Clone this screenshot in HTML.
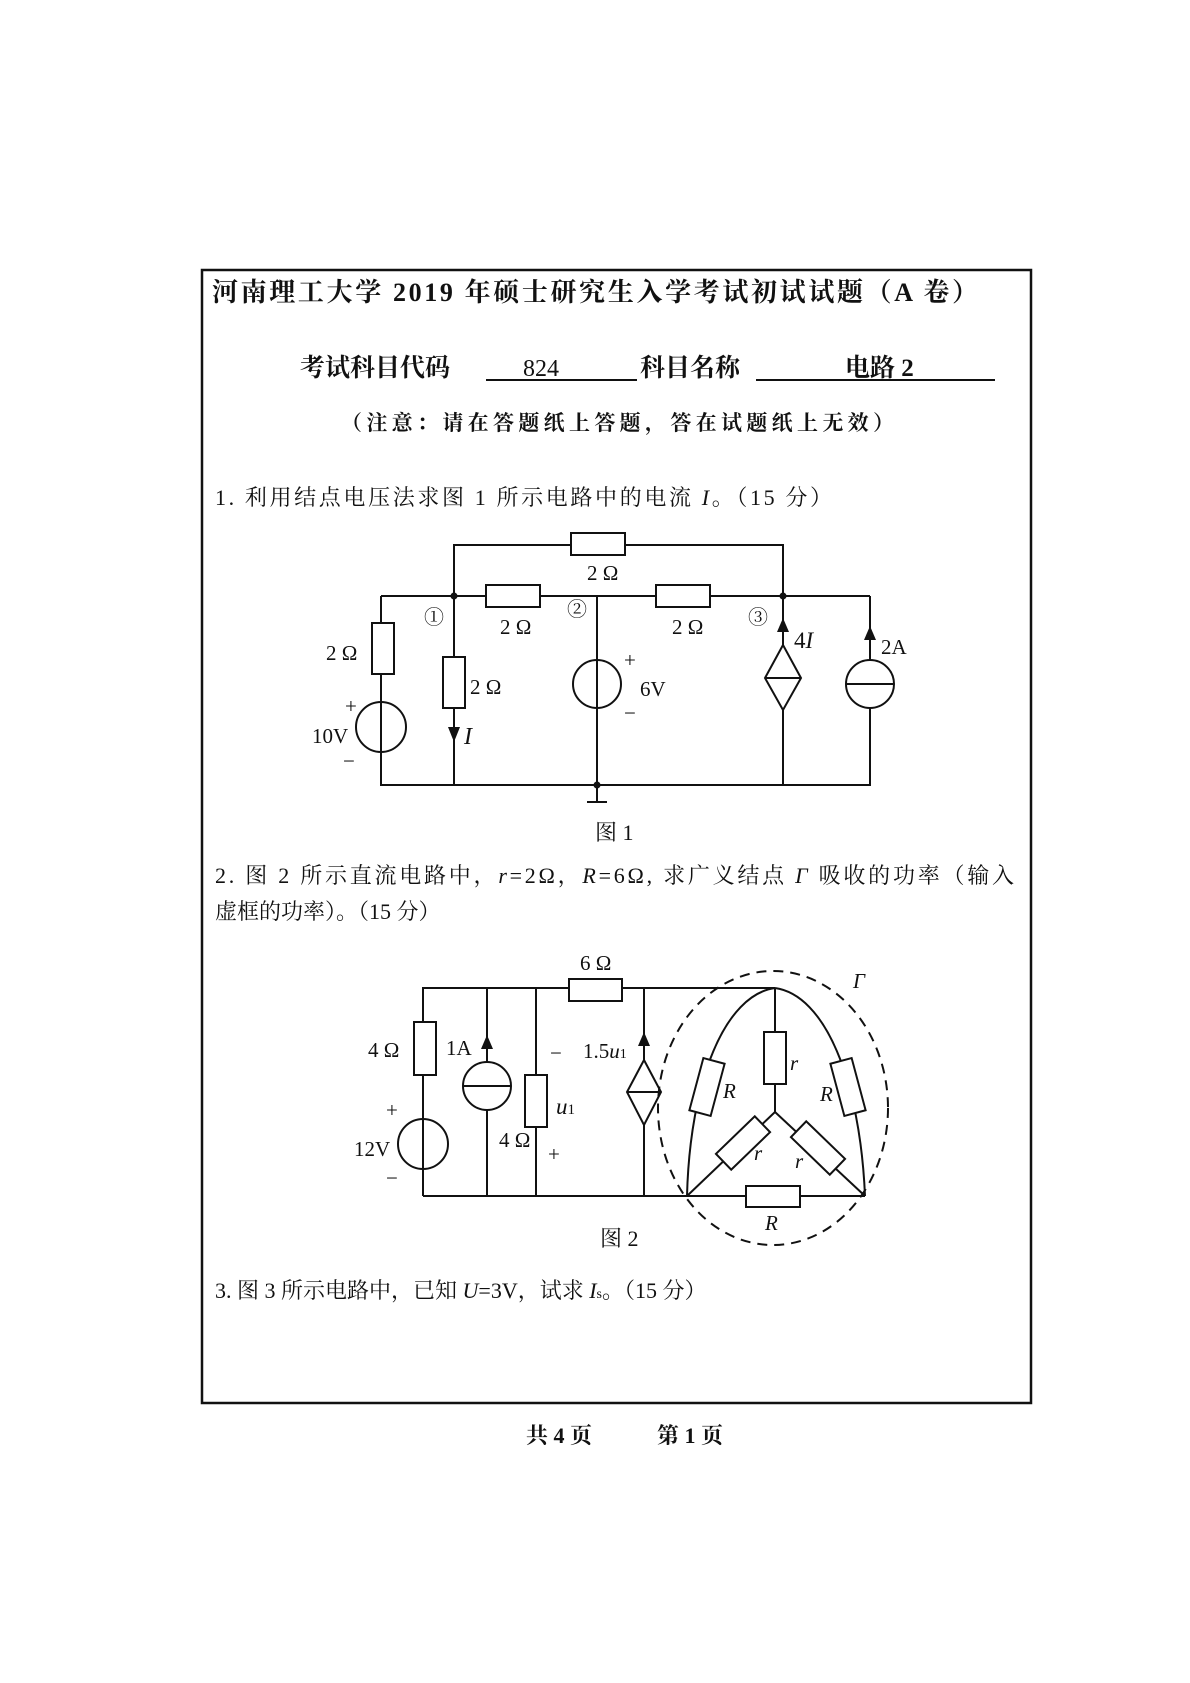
<!DOCTYPE html>
<html><head><meta charset="utf-8"><style>
html,body{margin:0;padding:0;background:#fff;}
svg{display:block}
text{font-family:"Liberation Serif","Noto Serif CJK SC",serif;fill:#111;}
</style></head><body>
<svg width="1190" height="1683" viewBox="0 0 1190 1683" xmlns="http://www.w3.org/2000/svg">
<rect x="202" y="270" width="829" height="1133" fill="none" stroke="#111" stroke-width="2.5"/>
<text x="212" y="301" font-size="26" font-weight="bold" textLength="766">河南理工大学 2019 年硕士研究生入学考试初试试题（A 卷）</text>
<text x="300" y="376" font-size="25" font-weight="bold">考试科目代码</text>
<text x="523" y="376" font-size="24">824</text>
<line x1="486" y1="380" x2="637" y2="380" stroke="#111" stroke-width="2"/>
<text x="640" y="376" font-size="25" font-weight="bold">科目名称</text>
<line x1="756" y1="380" x2="995" y2="380" stroke="#111" stroke-width="2"/>
<text x="845" y="376" font-size="25" font-weight="bold">电路 2</text>
<text x="341" y="430" font-size="21" font-weight="bold" textLength="553">（注意：请在答题纸上答题，答在试题纸上无效）</text>
<text x="215" y="505" font-size="22" textLength="617">1. 利用结点电压法求图 1 所示电路中的电流 <tspan font-style="italic">I</tspan>。（15 分）</text>

<g stroke="#111" stroke-width="2" fill="none">
<!-- Fig 1 -->
<polyline points="454,596 454,545 783,545 783,596"/>
<line x1="381" y1="596" x2="870" y2="596"/>
<polyline points="381,596 381,785 870,785 870,596"/>
<line x1="454" y1="596" x2="454" y2="785"/>
<line x1="597" y1="596" x2="597" y2="802"/>
<line x1="783" y1="596" x2="783" y2="785"/>
<line x1="587" y1="802" x2="607" y2="802"/>
<rect x="571" y="533" width="54" height="22" fill="#fff"/>
<rect x="486" y="585" width="54" height="22" fill="#fff"/>
<rect x="656" y="585" width="54" height="22" fill="#fff"/>
<rect x="372" y="623" width="22" height="51" fill="#fff"/>
<circle cx="381" cy="727" r="25" fill="#fff"/>
<line x1="381" y1="702" x2="381" y2="752"/>
<rect x="443" y="657" width="22" height="51" fill="#fff"/>
<circle cx="597" cy="684" r="24" fill="#fff"/>
<line x1="597" y1="660" x2="597" y2="708"/>
<polygon points="783,645 801,678 783,710 765,678" fill="#fff"/>
<line x1="765" y1="678" x2="801" y2="678"/>
<circle cx="870" cy="684" r="24" fill="#fff"/>
<line x1="846" y1="684" x2="894" y2="684"/>
</g>
<g fill="#111">
<circle cx="454" cy="596" r="3.5"/><circle cx="783" cy="596" r="3.5"/><circle cx="597" cy="785" r="3.5"/>
<polygon points="448,727 460,727 454,742"/>
<polygon points="777,632 789,632 783,618"/>
<polygon points="864,640 876,640 870,626"/>
</g>
<g font-size="21">
<text x="587" y="580">2 Ω</text>
<text x="500" y="634">2 Ω</text>
<text x="672" y="634">2 Ω</text>
<text x="326" y="660">2 Ω</text>
<text x="470" y="694">2 Ω</text>
<text x="345" y="713">+</text>
<text x="312" y="743">10V</text>
<text x="343" y="768">−</text>
<text x="464" y="744" font-style="italic" font-size="24">I</text>
<text x="424" y="624" font-size="20">①</text>
<text x="567" y="616" font-size="20">②</text>
<text x="748" y="624" font-size="20">③</text>
<text x="624" y="667">+</text>
<text x="640" y="696">6V</text>
<text x="624" y="720">−</text>
<text x="794" y="648" font-size="23">4<tspan font-style="italic">I</tspan></text>
<text x="881" y="654">2A</text>
<text x="595" y="840" font-size="22">图  1</text>
</g>

<text x="215" y="883" font-size="22" textLength="799">2. 图 2 所示直流电路中，<tspan font-style="italic">r</tspan>=2Ω，<tspan font-style="italic">R</tspan>=6Ω, 求广义结点 <tspan font-style="italic">Γ</tspan> 吸收的功率（输入</text>
<text x="215" y="919" font-size="22">虚框的功率）。（15 分）</text>

<g stroke="#111" stroke-width="2" fill="none">
<polyline points="423,1196 423,988 775,988"/>
<line x1="423" y1="1196" x2="865" y2="1196"/>
<line x1="487" y1="988" x2="487" y2="1196"/>
<line x1="536" y1="988" x2="536" y2="1196"/>
<line x1="644" y1="988" x2="644" y2="1196"/>
<rect x="414" y="1022" width="22" height="53" fill="#fff"/>
<circle cx="423" cy="1144" r="25" fill="#fff"/>
<line x1="423" y1="1119" x2="423" y2="1169"/>
<circle cx="487" cy="1086" r="24" fill="#fff"/>
<line x1="463" y1="1086" x2="511" y2="1086"/>
<rect x="525" y="1075" width="22" height="52" fill="#fff"/>
<rect x="569" y="979" width="53" height="22" fill="#fff"/>
<polygon points="644,1060 661,1092 644,1125 627,1092" fill="#fff"/>
<line x1="627" y1="1092" x2="661" y2="1092"/>
<!-- delta-star -->
<path d="M775,988 C725,995 690,1080 687,1196"/>
<path d="M775,988 C825,995 860,1080 865,1196"/>
<line x1="775" y1="988" x2="775" y2="1112"/>
<line x1="775" y1="1112" x2="687" y2="1196"/>
<line x1="775" y1="1112" x2="865" y2="1196"/>
<rect x="764" y="1032" width="22" height="52" fill="#fff"/>
<rect x="696" y="1060" width="22" height="54" fill="#fff" transform="rotate(15 707 1087)"/>
<rect x="837" y="1060" width="22" height="54" fill="#fff" transform="rotate(-15 848 1087)"/>
<rect x="732" y="1116" width="22" height="54" fill="#fff" transform="rotate(46 743 1143)"/>
<rect x="807" y="1121" width="22" height="54" fill="#fff" transform="rotate(-46 818 1148)"/>
<rect x="746" y="1186" width="54" height="21" fill="#fff"/>
<ellipse cx="773" cy="1108" rx="115" ry="137" stroke-dasharray="10,7"/>
</g>
<g fill="#111">
<polygon points="481,1049 493,1049 487,1035"/>
<polygon points="638,1046 650,1046 644,1032"/>
</g>
<g font-size="21">
<text x="580" y="970">6 Ω</text>
<text x="368" y="1057">4 Ω</text>
<text x="446" y="1055">1A</text>
<text x="386" y="1117">+</text>
<text x="354" y="1156">12V</text>
<text x="386" y="1185">−</text>
<text x="499" y="1147">4 Ω</text>
<text x="550" y="1060">−</text>
<text x="548" y="1161">+</text>
<text x="556" y="1114" font-style="italic" font-size="23">u<tspan font-style="normal" font-size="15">1</tspan></text>
<text x="583" y="1058">1.5<tspan font-style="italic">u</tspan><tspan font-size="14">1</tspan></text>
<text x="790" y="1070" font-style="italic">r</text>
<text x="723" y="1098" font-style="italic">R</text>
<text x="820" y="1101" font-style="italic">R</text>
<text x="754" y="1160" font-style="italic">r</text>
<text x="795" y="1168" font-style="italic">r</text>
<text x="765" y="1230" font-style="italic">R</text>
<text x="853" y="988" font-style="italic">Γ</text>
<text x="600" y="1246" font-size="22">图  2</text>
</g>
<text x="215" y="1298" font-size="22">3. 图 3 所示电路中，已知 <tspan font-style="italic">U</tspan>=3V，试求 <tspan font-style="italic">I</tspan><tspan font-size="14">s</tspan>。（15 分）</text>
<text x="526" y="1443" font-size="22" font-weight="bold">共 4 页</text>
<text x="657" y="1443" font-size="22" font-weight="bold">第 1 页</text>
</svg>
</body></html>
